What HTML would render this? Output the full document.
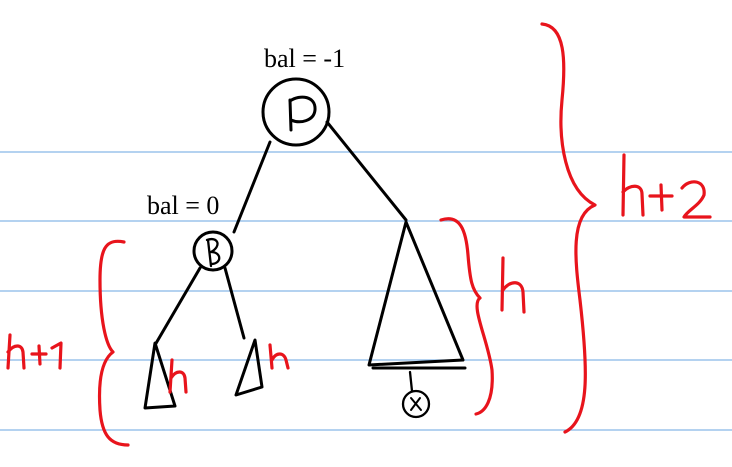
<!DOCTYPE html>
<html><head><meta charset="utf-8"><style>
html,body{margin:0;padding:0;background:#fff;width:732px;height:467px;overflow:hidden}
svg{display:block}
</style></head><body>
<svg width="732" height="467" viewBox="0 0 732 467">
<g stroke="#86b7e6" stroke-width="1.3">
<line x1="0" y1="152" x2="732" y2="152"/><line x1="0" y1="221" x2="732" y2="221"/>
<line x1="0" y1="291" x2="732" y2="291"/><line x1="0" y1="360" x2="732" y2="360"/>
<line x1="0" y1="430" x2="732" y2="430"/>
</g>
<g fill="none" stroke="#000" stroke-width="3" stroke-linecap="round" stroke-linejoin="round">
<circle cx="296" cy="112" r="33" fill="#fff"/>
<path d="M291 130 L290 100 M290 101 C300 94 316 96 315 110 C314 121 300 124 291 120"/>
<line x1="270" y1="142" x2="234" y2="232"/>
<line x1="327" y1="122" x2="406" y2="220"/>
<circle cx="213" cy="251" r="19" fill="#fff"/>
<path d="M208 240 L211 266 M207 240 C218 236 222 246 211 252 C222 252 222 264 211 264" stroke-width="2.3"/>
<line x1="200" y1="268" x2="155" y2="345"/>
<line x1="225" y1="268" x2="244" y2="338"/>
<path d="M155 343 L145 408 L175 406 Z"/>
<path d="M255 340 L236 395 L262 387 Z"/>
<path d="M406 222 L369 365 L463 360 Z"/>
<line x1="373" y1="368" x2="465" y2="368"/>
<line x1="410" y1="372" x2="412" y2="391" stroke-width="2.3"/>
<circle cx="416" cy="404" r="13" stroke-width="2.3"/>
<path d="M411 398 L421 410 M420 398 L411 410" stroke-width="2"/>
</g>
<text x="264" y="67" font-family="Liberation Serif, serif" font-size="26">bal = -1</text>
<text x="147" y="214" font-family="Liberation Serif, serif" font-size="26">bal = 0</text>
<g fill="none" stroke="#e8141c" stroke-width="3.2" stroke-linecap="round" stroke-linejoin="round">
<path d="M124 242 C105 238 100 250 100 280 C100 320 106 345 113 352 C102 360 98 380 100 410 C102 435 110 445 128 445"/>
<path d="M10 335 L8 368 M8 352 C14 344 22 344 23 352 L24 368 M32 354 L46 354 M39 346 L40 364 M52 348 L61 343 L60 368"/>
<path d="M172 360 L170 392 M171 378 C176 370 184 370 185 378 L186 392"/>
<path d="M270 345 L272 368 M272 360 C276 352 284 352 286 360 L288 368"/>
<path d="M441 220 C460 214 466 230 468 255 C470 280 472 290 480 298 C470 305 488 340 492 370 C494 400 485 412 476 414"/>
<path d="M503 258 L502 310 M503 290 C510 280 522 280 523 292 L524 312"/>
<path d="M542 24 C565 26 566 60 562 100 C558 140 565 190 595 205 C570 215 575 260 580 300 C588 370 590 420 565 432"/>
<path d="M624 155 L623 215 M623 192 C630 184 642 184 642 194 L643 215 M650 196 L672 196 M661 185 L662 210 M682 188 C690 178 706 180 704 195 C700 205 688 210 684 217 L710 217"/>
</g>
</svg>
</body></html>
